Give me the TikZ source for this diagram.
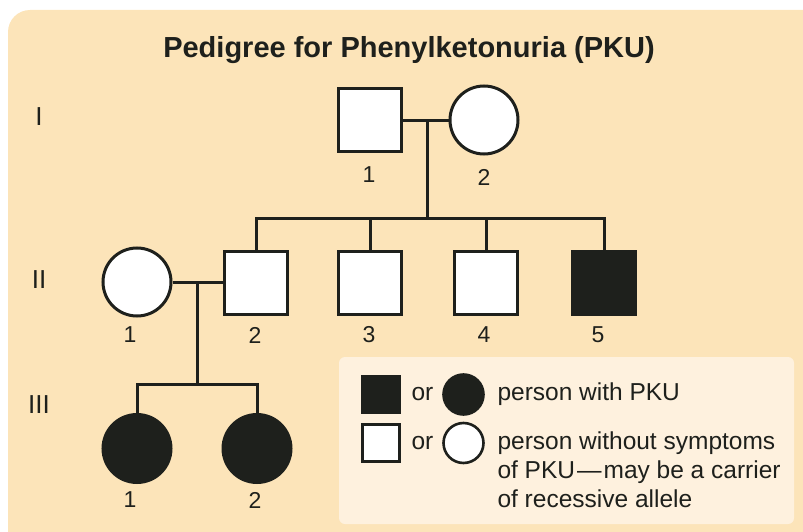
\documentclass[tikz,border=0pt]{standalone}
\usepackage{fontspec}
\setmainfont{Liberation Sans}
\definecolor{bgpeach}{RGB}{252,228,185}
\definecolor{legendbg}{RGB}{254,241,222}
\definecolor{ink}{RGB}{30,32,28}
\begin{document}
\begin{tikzpicture}[x=1pt,y=-1pt,
  line width=3pt,
  male/.style={draw=ink, fill=white, rectangle, minimum size=63pt, inner sep=0pt, line width=3pt},
  female/.style={draw=ink, fill=white, circle, minimum size=68pt, inner sep=0pt, line width=3pt},
  affected/.style={fill=ink},
  lmale/.style={draw=ink, fill=white, rectangle, minimum size=37pt, inner sep=0pt, line width=2.6pt},
  lfemale/.style={draw=ink, fill=white, circle, minimum size=40pt, inner sep=0pt, line width=2.6pt},
  link/.style={draw=ink, line width=3pt},
  num/.style={text=ink, font=\fontsize{23}{27}\selectfont, inner sep=0pt},
  gen/.style={text=ink, font=\fontsize{26}{30}\selectfont, inner sep=0pt},
  legtext/.style={text=ink, font=\fontsize{24.5}{29}\selectfont, inner sep=0pt, anchor=base west, align=left}
]
\clip (0,0) rectangle (803,532);
\fill[bgpeach, rounded corners=22pt] (8,10) rectangle (830,560);

% title
\node[text=ink, font=\bfseries\fontsize{29}{34}\selectfont, inner sep=0pt] (title) at (409,50) {Pedigree for Phenylketonuria (PKU)};

% generation labels
\node[gen] (gI) at (39,117) {I};
\node[gen] (gII) at (39,280) {II};
\node[gen] (gIII) at (39,405) {III};

% generation I
\node[male] (i1) at (369.5,120.5) {};
\node[female] (i2) at (484,120) {};
\node[num] (n-i1) at (369,175) {1};
\node[num] (n-i2) at (484,177) {2};

% generation II
\node[female] (ii1) at (137,282) {};
\node[male] (ii2) at (256,283) {};
\node[male] (ii3) at (370,283) {};
\node[male] (ii4) at (486,283) {};
\node[male, affected] (ii5) at (604,283) {};
\node[num] (n-ii1) at (130,335) {1};
\node[num] (n-ii2) at (255,335) {2};
\node[num] (n-ii3) at (369,335) {3};
\node[num] (n-ii4) at (484,335) {4};
\node[num] (n-ii5) at (598,335) {5};

% generation III
\node[female, affected] (iii1) at (137,448.5) {};
\node[female, affected] (iii2) at (257,448.5) {};
\node[num] (n-iii1) at (130,500) {1};
\node[num] (n-iii2) at (255,500) {2};

% connectors
\coordinate (m1) at (427,121);
\coordinate (s1) at (427,218);
\draw[link] (i1.east |- m1) -- (i2.west |- m1);
\draw[link] (m1) -- (s1);
\draw[link] (ii2.north) |- (s1);
\draw[link] (s1) -| (ii5.north);
\draw[link] (ii3.north) -- (ii3.north |- s1);
\draw[link] (ii4.north) -- (ii4.north |- s1);

\coordinate (m2) at (197,282);
\coordinate (s2) at (197,384);
\draw[link] (ii1.east) -- (ii2.west |- m2);
\draw[link] (m2) -- (s2);
\draw[link] (iii1.north) |- (s2);
\draw[link] (s2) -| (iii2.north);

% legend
\fill[legendbg, rounded corners=6pt] (339,357) rectangle (794,524);
\node[lmale, affected] (lsq1) at (381,394.5) {};
\node[lfemale, affected] (lci1) at (463.5,394.5) {};
\node[lmale] (lsq2) at (381,443) {};
\node[lfemale] (lci2) at (463.5,443) {};
\node[legtext] (or1) at (410,400) {or};
\node[legtext] (or2) at (410,449) {or};
\node[legtext] (lt1) at (496,400) {person with PKU};
\node[legtext, anchor=north west, text depth=0pt] (lt2) at (496,430.5) {person without symptoms\\of PKU\kern2pt—\kern2pt may be a carrier\\of recessive allele};
\end{tikzpicture}
\end{document}
